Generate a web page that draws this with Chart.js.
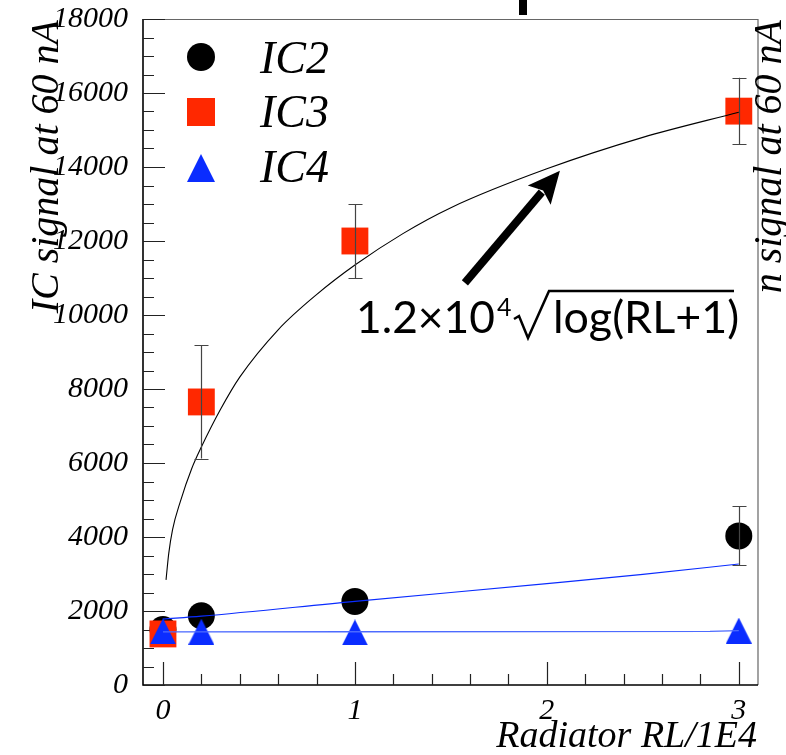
<!DOCTYPE html>
<html>
<head>
<meta charset="utf-8">
<script src="https://cdn.jsdelivr.net/npm/chart.js@4.4.1/dist/chart.umd.min.js"></script>
<style>
  html, body { margin: 0; padding: 0; background: #fff; }
</style>
</head>
<body>
<canvas id="ic-signal" width="786" height="755"></canvas>
<script>
// radiator thickness (RL / 1E4) for each run
const radiator = [0, 0.2, 1, 3];
const ic2 = [1500, 1870, 2260, 4030];
const ic2Err = [0, 0, 0, 800];
const ic3 = [1380, 7650, 12000, 15510];
const ic3Err = [0, 1530, 1000, 900];
const ic4 = [1450, 1440, 1420, 1470];

// fitted curves
const fitIC3X = [0.016, 0.03, 0.05, 0.09, 0.15, 0.2, 0.3, 0.4, 0.6, 0.8, 1.0, 1.25, 1.5, 2.0, 2.5, 3.0];
const fitIC3Y = [2840, 3550, 4200, 4950, 5850, 6430, 7450, 8320, 9600, 10550, 11350, 12200, 12900, 13950, 14800, 15480];
const fitIC2X = [0, 0.2, 1, 2, 2.5, 3];
const fitIC2Y = [1780, 1860, 2260, 2740, 2990, 3270];
const fitIC4X = [0, 1, 2, 2.85, 3];
const fitIC4Y = [1435, 1438, 1442, 1448, 1470];

const xTicks = [0, 1, 2, 3];
const yMax = 18000;
const yStep = 2000;

const RED = "#ff2800";
const BLUE = "#0a2cff";
const SERIF = "'Liberation Serif', 'Times New Roman', serif";
const SANS = "Lato, 'DejaVu Sans', sans-serif";

const pts = (xs, ys) => xs.map((x, i) => ({ x: x, y: ys[i] }));

function triangleMarker(size, color) {
    const c = document.createElement("canvas");
    c.width = size;
    c.height = size;
    const g = c.getContext("2d");
    g.fillStyle = color;
    g.beginPath();
    g.moveTo(size / 2, 0);
    g.lineTo(size, size);
    g.lineTo(0, size);
    g.closePath();
    g.fill();
    return c;
}

// sets a font size so that text spans the given width
function fitFont(ctx, text, width, base) {
    ctx.font = base + "px " + SANS;
    const size = base * width / ctx.measureText(text).width;
    ctx.font = size.toFixed(1) + "px " + SANS;
}

const decor = {
    id: "decor",
    beforeDraw(chart) {
        const ctx = chart.ctx;
        ctx.save();
        ctx.fillStyle = "#fff";
        ctx.fillRect(0, 0, chart.width, chart.height);
        ctx.restore();
    },
    beforeDatasetsDraw(chart) {
        const { ctx, chartArea: a, scales: { x, y } } = chart;
        ctx.save();
        // frame
        ctx.strokeStyle = "#666";
        ctx.lineWidth = 1.2;
        ctx.beginPath();
        ctx.moveTo(a.left, a.top + 0.5);
        ctx.lineTo(a.right, a.top + 0.5);
        ctx.lineTo(a.right, a.bottom);
        ctx.stroke();
        ctx.strokeStyle = "#000";
        ctx.lineWidth = 1.6;
        ctx.beginPath();
        ctx.moveTo(a.left, a.top);
        ctx.lineTo(a.left, a.bottom);
        ctx.lineTo(a.right, a.bottom);
        ctx.stroke();

        // inward ticks on y
        ctx.lineWidth = 1.2;
        ctx.strokeStyle = "#222";
        ctx.beginPath();
        for (let v = 0; v <= yMax; v += 500) {
            const py = Math.round(y.getPixelForValue(v)) + 0.5;
            const len = v % yStep === 0 ? 22 : 11;
            ctx.moveTo(a.left, py);
            ctx.lineTo(a.left + len, py);
        }
        // inward ticks on x
        for (let i = 0; i <= 15; i++) {
            const v = i * 0.2;
            const px = Math.round(x.getPixelForValue(v)) + 0.5;
            const len = i % 5 === 0 ? 23 : 11;
            ctx.moveTo(px, a.bottom);
            ctx.lineTo(px, a.bottom - len);
        }
        ctx.stroke();

        // y tick labels, full width (no squeezing)
        ctx.fillStyle = "#000";
        ctx.font = "italic 30px " + SERIF;
        ctx.textAlign = "right";
        ctx.textBaseline = "middle";
        y.ticks.forEach(t => {
            ctx.fillText(String(t.value), a.left - 15, y.getPixelForValue(t.value));
        });
        ctx.restore();
    },
    afterDatasetsDraw(chart) {
        const { ctx, scales: { x, y } } = chart;
        ctx.save();
        ctx.strokeStyle = "#444";
        ctx.lineWidth = 1.2;
        const bars = [[ic2, ic2Err], [ic3, ic3Err]];
        bars.forEach(([vals, errs]) => {
            vals.forEach((v, i) => {
                if (!errs[i]) return;
                const px = Math.round(x.getPixelForValue(radiator[i])) + 0.5;
                const top = y.getPixelForValue(v + errs[i]);
                const bot = y.getPixelForValue(v - errs[i]);
                ctx.beginPath();
                ctx.moveTo(px, top);
                ctx.lineTo(px, bot);
                ctx.moveTo(px - 7, Math.round(top) + 0.5);
                ctx.lineTo(px + 7, Math.round(top) + 0.5);
                ctx.moveTo(px - 7, Math.round(bot) + 0.5);
                ctx.lineTo(px + 7, Math.round(bot) + 0.5);
                ctx.stroke();
            });
        });
        ctx.restore();
    },
    afterDraw(chart) {
        const { ctx, scales: { x, y } } = chart;
        ctx.save();

        // legend
        ctx.fillStyle = "#000";
        ctx.beginPath();
        ctx.arc(201, 57, 14, 0, Math.PI * 2);
        ctx.fill();
        ctx.fillStyle = RED;
        ctx.fillRect(187, 98, 28, 28);
        ctx.drawImage(triangleMarker(28, BLUE), 187, 154);
        ctx.fillStyle = "#000";
        ctx.font = "italic 46px " + SERIF;
        ctx.textAlign = "left";
        ctx.textBaseline = "alphabetic";
        ctx.fillText("IC2", 260, 73);
        ctx.fillText("IC3", 260, 127);
        ctx.fillText("IC4", 260, 182);

        // axis titles
        ctx.font = "italic 40px " + SERIF;
        ctx.save();
        ctx.translate(58, 20);
        ctx.rotate(-Math.PI / 2);
        ctx.textAlign = "right";
        ctx.fillText("IC signal at 60 nA", 0, 0);
        ctx.restore();
        ctx.save();
        ctx.translate(781, 20);
        ctx.rotate(-Math.PI / 2);
        ctx.textAlign = "right";
        ctx.fillText("n signal at 60 nA", 0, 0);
        ctx.restore();
        ctx.font = "italic 38px " + SERIF;
        ctx.textAlign = "right";
        ctx.fillText("Radiator RL/1E4", 757, 747);

        // piece of the title above the frame
        ctx.fillRect(519, 0, 8, 15);

        // arrow pointing at the fit
        const tx = x.getPixelForValue(1.573), ty = y.getPixelForValue(10870);
        const hx = x.getPixelForValue(2.068), hy = y.getPixelForValue(13900);
        const ang = Math.atan2(hy - ty, hx - tx);
        const headLen = 32, headHalf = 15;
        const bx = hx - Math.cos(ang) * headLen, by = hy - Math.sin(ang) * headLen;
        ctx.strokeStyle = "#000";
        ctx.lineWidth = 8;
        ctx.beginPath();
        ctx.moveTo(tx, ty);
        ctx.lineTo(bx + Math.cos(ang) * 4, by + Math.sin(ang) * 4);
        ctx.stroke();
        ctx.beginPath();
        ctx.moveTo(hx, hy);
        ctx.lineTo(bx - Math.sin(ang) * headHalf, by + Math.cos(ang) * headHalf);
        ctx.lineTo(bx + Math.cos(ang) * 6, by + Math.sin(ang) * 6);
        ctx.lineTo(bx + Math.sin(ang) * headHalf, by - Math.cos(ang) * headHalf);
        ctx.closePath();
        ctx.fill();

        // fit formula
        ctx.textAlign = "left";
        const base = 333;
        fitFont(ctx, "1.2\u00d710", 139, 46);
        ctx.fillText("1.2\u00d710", 356, base);
        ctx.font = "25px " + SANS;
        ctx.fillText("4", 497, base - 17);
        ctx.lineWidth = 2.5;
        ctx.lineJoin = "miter";
        ctx.beginPath();
        ctx.moveTo(514, 319);
        ctx.lineTo(519, 316);
        ctx.lineTo(528, 338);
        ctx.lineTo(549, 291);
        ctx.lineTo(734, 291);
        ctx.stroke();
        fitFont(ctx, "log(RL+1)", 186, 46);
        ctx.fillText("log(RL+1)", 553, base);

        ctx.restore();
    }
};

const ctx = document.getElementById("ic-signal").getContext("2d");

new Chart(ctx, {
    type: "scatter",
    data: {
        datasets: [
            {
                label: "fit IC3",
                data: pts(fitIC3X, fitIC3Y),
                showLine: true,
                borderColor: "#000",
                borderWidth: 1.1,
                pointRadius: 0,
                cubicInterpolationMode: "monotone"
            },
            {
                label: "fit IC2",
                data: pts(fitIC2X, fitIC2Y),
                showLine: true,
                borderColor: BLUE,
                borderWidth: 1.2,
                pointRadius: 0,
                cubicInterpolationMode: "monotone"
            },
            {
                label: "fit IC4",
                data: pts(fitIC4X, fitIC4Y),
                showLine: true,
                borderColor: "#4d6bff",
                borderWidth: 1.4,
                pointRadius: 0
            },
            {
                label: "IC4",
                data: pts(radiator, ic4),
                pointStyle: triangleMarker(26, BLUE),
                pointRadius: 13
            },
            {
                label: "IC3",
                data: pts(radiator, ic3),
                pointStyle: "rect",
                pointRadius: 19,
                backgroundColor: RED,
                borderWidth: 0
            },
            {
                label: "IC2",
                data: pts(radiator, ic2),
                pointStyle: "circle",
                pointRadius: 13.5,
                backgroundColor: "#000",
                borderWidth: 0
            }
        ]
    },
    options: {
        responsive: false,
        animation: false,
        layout: {
            padding: { left: 0, top: 19, right: 28, bottom: 0 }
        },
        plugins: {
            legend: { display: false },
            tooltip: { enabled: false }
        },
        scales: {
            x: {
                type: "linear",
                min: -0.104,
                max: 3.1,
                grid: { display: false, drawTicks: false },
                border: { display: false },
                afterBuildTicks: scale => {
                    scale.ticks = xTicks.map(v => ({ value: v }));
                },
                afterFit: scale => {
                    scale.height = 70;
                    scale.paddingLeft = 0;
                    scale.paddingRight = 0;
                },
                ticks: {
                    color: "#000",
                    padding: 8,
                    maxRotation: 0,
                    callback: v => String(v),
                    font: { family: SERIF, style: "italic", size: 30 }
                }
            },
            y: {
                min: 0,
                max: yMax,
                grid: { display: false, drawTicks: false },
                border: { display: false },
                afterFit: scale => {
                    scale.width = 143;
                    scale.paddingTop = 0;
                    scale.paddingBottom = 0;
                },
                ticks: {
                    stepSize: yStep,
                    display: false
                }
            }
        }
    },
    plugins: [decor]
});
</script>
</body>
</html>
